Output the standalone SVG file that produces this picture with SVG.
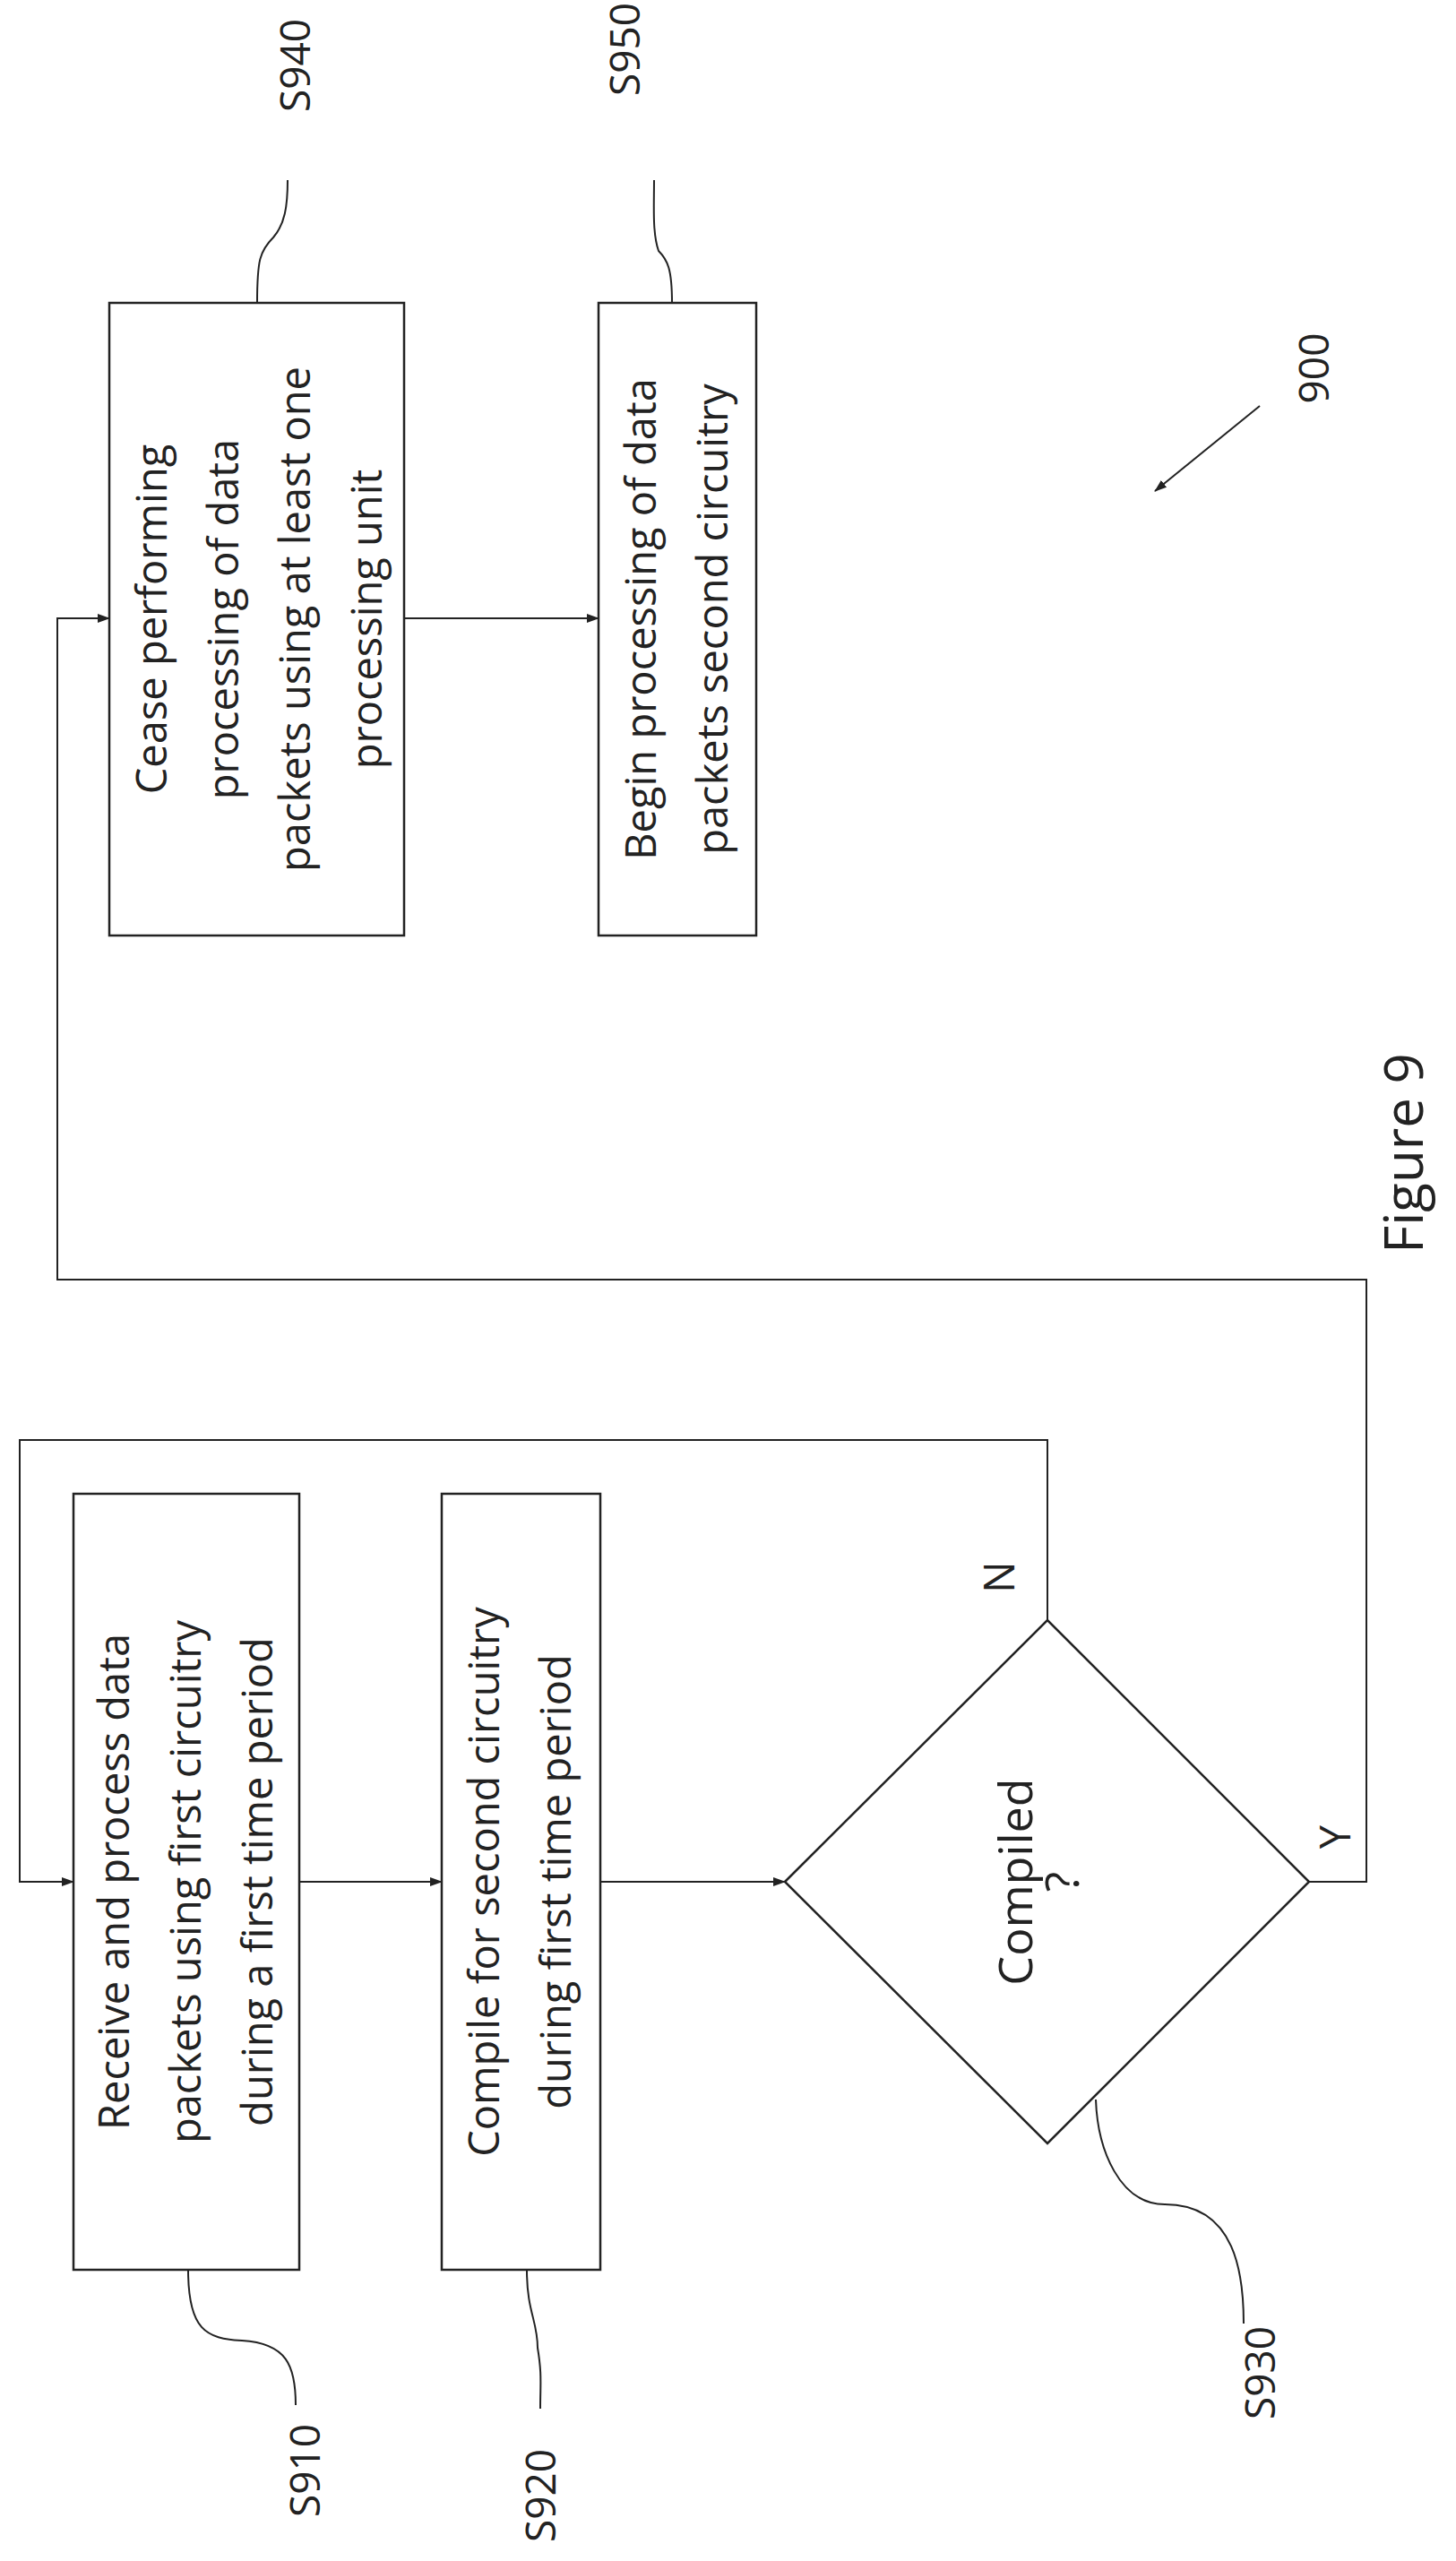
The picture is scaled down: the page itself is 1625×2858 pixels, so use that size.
<svg xmlns="http://www.w3.org/2000/svg" width="1625" height="2858" viewBox="0 0 1625 2858">
<style>
.b{fill:#fff;stroke:#222;stroke-width:2.5}
.c{fill:none;stroke:#222;stroke-width:2}
text{font-family:"Open Sans","Noto Sans",sans-serif;font-size:47px;fill:#222;text-anchor:middle}
.l{font-size:46px}
</style>
<defs><marker id="a" markerWidth="14" markerHeight="10" refX="13" refY="5" orient="auto" markerUnits="userSpaceOnUse"><path d="M0,0L14,5L0,10z" fill="#222"/></marker></defs>
<rect width="1625" height="2858" fill="#fff"/>
<g id="connectors">
<path class="c" d="M334,2100H493" marker-end="url(#a)"/>
<path class="c" d="M670,2100H876" marker-end="url(#a)"/>
<path class="c" d="M1169,1808V1607H22V2100H82" marker-end="url(#a)"/>
<path class="c" d="M1461,2100H1525V1428H64V690H122" marker-end="url(#a)"/>
<path class="c" d="M451,690H668" marker-end="url(#a)"/>
<path class="c" d="M1406,453L1289,548" marker-end="url(#a)"/>
<path class="c" d="M210,2533C210,2600 230,2610 270,2612C320,2615 330,2640 330,2684"/>
<path class="c" d="M588,2533C588,2580 600,2590 600,2620C605,2650 603,2660 603,2688"/>
<path class="c" d="M1223,2343C1225,2400 1250,2460 1300,2460C1380,2460 1388,2540 1388,2593"/>
<path class="c" d="M287,338C287,290 290,280 305,265C318,250 321,230 321,201"/>
<path class="c" d="M750,338C750,300 745,290 735,280C728,260 730,230 730,201"/>
</g>
<g id="S910"><rect class="b" x="82" y="1667" width="252" height="866"/>
<text transform="translate(208,2100) rotate(-90)"><tspan x="0" y="-64">Receive and process data</tspan><tspan x="0" y="16">packets using first circuitry</tspan><tspan x="0" y="96">during a first time period</tspan></text></g>
<g id="S920"><rect class="b" x="493" y="1667" width="177" height="866"/>
<text transform="translate(581,2100) rotate(-90)"><tspan x="0" y="-24">Compile for second circuitry</tspan><tspan x="0" y="56">during first time period</tspan></text></g>
<g id="S930"><path class="b" d="M876,2100L1169,1808L1461,2100L1169,2392z"/>
<text style="font-size:52px" transform="translate(1152,2100) rotate(-90)"><tspan x="0" y="0">Compiled</tspan><tspan x="0" y="52">?</tspan></text>
<text transform="translate(1132,1760) rotate(-90)">N</text>
<text transform="translate(1507,2050) rotate(-90)">Y</text></g>
<g id="S940"><rect class="b" x="122" y="338" width="329" height="706"/>
<text transform="translate(290,691) rotate(-90)"><tspan x="0" y="-104">Cease performing</tspan><tspan x="0" y="-24">processing of data</tspan><tspan x="0" y="56">packets using at least one</tspan><tspan x="0" y="136">processing unit</tspan></text></g>
<g id="S950"><rect class="b" x="668" y="338" width="176" height="706"/>
<text transform="translate(756,691) rotate(-90)"><tspan x="0" y="-24">Begin processing of data</tspan><tspan x="0" y="56">packets second circuitry</tspan></text></g>
<g id="labels">
<text class="l" transform="translate(346,73) rotate(-90)">S940</text>
<text class="l" transform="translate(714,55) rotate(-90)">S950</text>
<text class="l" transform="translate(357,2757) rotate(-90)">S910</text>
<text class="l" transform="translate(620,2785) rotate(-90)">S920</text>
<text class="l" transform="translate(1423,2648) rotate(-90)">S930</text>
<text class="l" transform="translate(1483,411) rotate(-90)">900</text>
<text style="font-size:60px" transform="translate(1588,1287) rotate(-90)">Figure 9</text>
</g>
</svg>
